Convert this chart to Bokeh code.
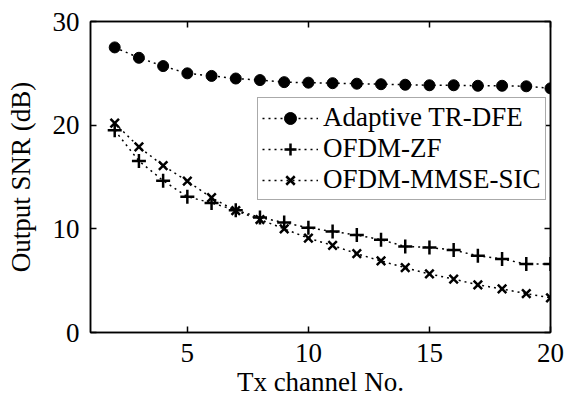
from bokeh.plotting import figure
from bokeh.models import LinearAxis, FixedTicker, Legend, LegendItem, CustomJSTickFormatter
from bokeh.embed import file_html
from bokeh.resources import INLINE

tx_channels = list(range(2, 21))
adaptive_tr_dfe = [27.5, 26.5, 25.7, 25.0, 24.75, 24.5, 24.35, 24.15, 24.1, 24.05, 24.0, 23.95, 23.9, 23.85, 23.85, 23.8, 23.8, 23.75, 23.55]
ofdm_zf = [19.5, 16.55, 14.65, 13.1, 12.5, 11.8, 11.1, 10.6, 10.1, 9.75, 9.4, 8.95, 8.3, 8.2, 7.95, 7.4, 7.1, 6.6, 6.6]
ofdm_mmse_sic = [20.2, 17.9, 16.1, 14.6, 13.0, 11.75, 10.9, 10.0, 9.1, 8.4, 7.6, 6.9, 6.25, 5.65, 5.15, 4.6, 4.2, 3.75, 3.35]
x_ticks = [5, 10, 15, 20]
y_ticks = [0, 10, 20, 30]

FONT = "Liberation Serif"
FS = "27px"

p = figure(width=565, height=403, x_range=(1, 20), y_range=(0, 30),
           output_backend="svg", toolbar_location=None,
           min_border_left=90, min_border_right=15, min_border_top=21, min_border_bottom=71)
p.xgrid.visible = False
p.ygrid.visible = False
p.outline_line_color = "black"
p.outline_line_width = 1.5
p.background_fill_color = "white"
p.border_fill_color = "white"

def style_axis(ax, ticks, labels=True):
    ax.ticker = FixedTicker(ticks=ticks)
    ax.major_tick_in = 6
    ax.major_tick_out = 0
    ax.minor_tick_in = 0
    ax.minor_tick_out = 0
    ax.major_tick_line_color = "black"
    ax.major_tick_line_width = 1.5
    ax.axis_line_color = "black"
    ax.axis_line_width = 1.5
    ax.major_label_text_font = FONT
    ax.major_label_text_color = "black"
    ax.major_label_text_font_size = FS
    if labels:
        ax.major_label_standoff = 11
    else:
        ax.formatter = CustomJSTickFormatter(code="return ''")
        ax.major_label_standoff = 0
    ax.axis_label_text_font = FONT
    ax.axis_label_text_font_size = FS
    ax.axis_label_text_font_style = "normal"
    ax.axis_label_text_color = "black"

style_axis(p.xaxis[0], x_ticks)
style_axis(p.yaxis[0], y_ticks)
p.xaxis[0].axis_label = "Tx channel No."
p.yaxis[0].axis_label = "Output SNR (dB)"
p.xaxis[0].axis_label_standoff = 2
p.yaxis[0].axis_label_standoff = 14

top_ax = LinearAxis()
style_axis(top_ax, x_ticks, labels=False)
p.add_layout(top_ax, "above")
right_ax = LinearAxis()
style_axis(right_ax, y_ticks, labels=False)
p.add_layout(right_ax, "right")

dash = "2 4"
l1 = p.line(tx_channels, adaptive_tr_dfe, line_color="black", line_width=1.5, line_dash=dash)
s1 = p.scatter(tx_channels, adaptive_tr_dfe, marker="circle", size=11, fill_color="black", line_color="black")
l2 = p.line(tx_channels, ofdm_zf, line_color="black", line_width=1.5, line_dash=dash)
s2 = p.scatter(tx_channels, ofdm_zf, marker="cross", size=14, line_color="black", line_width=2.5)
l3 = p.line(tx_channels, ofdm_mmse_sic, line_color="black", line_width=1.5, line_dash=dash)
s3 = p.scatter(tx_channels, ofdm_mmse_sic, marker="x", size=12, line_color="black", line_width=2.5)

legend = Legend(items=[
    LegendItem(label="Adaptive TR-DFE", renderers=[l1, s1]),
    LegendItem(label="OFDM-ZF", renderers=[l2, s2]),
    LegendItem(label="OFDM-MMSE-SIC", renderers=[l3, s3]),
], location=(167, 132))
legend.label_text_font = FONT
legend.label_text_font_size = FS
legend.label_text_color = "black"
legend.label_height = 30
legend.glyph_height = 30
legend.glyph_width = 56
legend.label_standoff = 5
legend.spacing = 0
legend.padding = 4
legend.margin = 0
legend.border_line_color = "#555555"
legend.border_line_width = 1
legend.background_fill_color = "white"
legend.background_fill_alpha = 1
p.add_layout(legend, "center")

open("out.html", "w").write(file_html(p, INLINE))
